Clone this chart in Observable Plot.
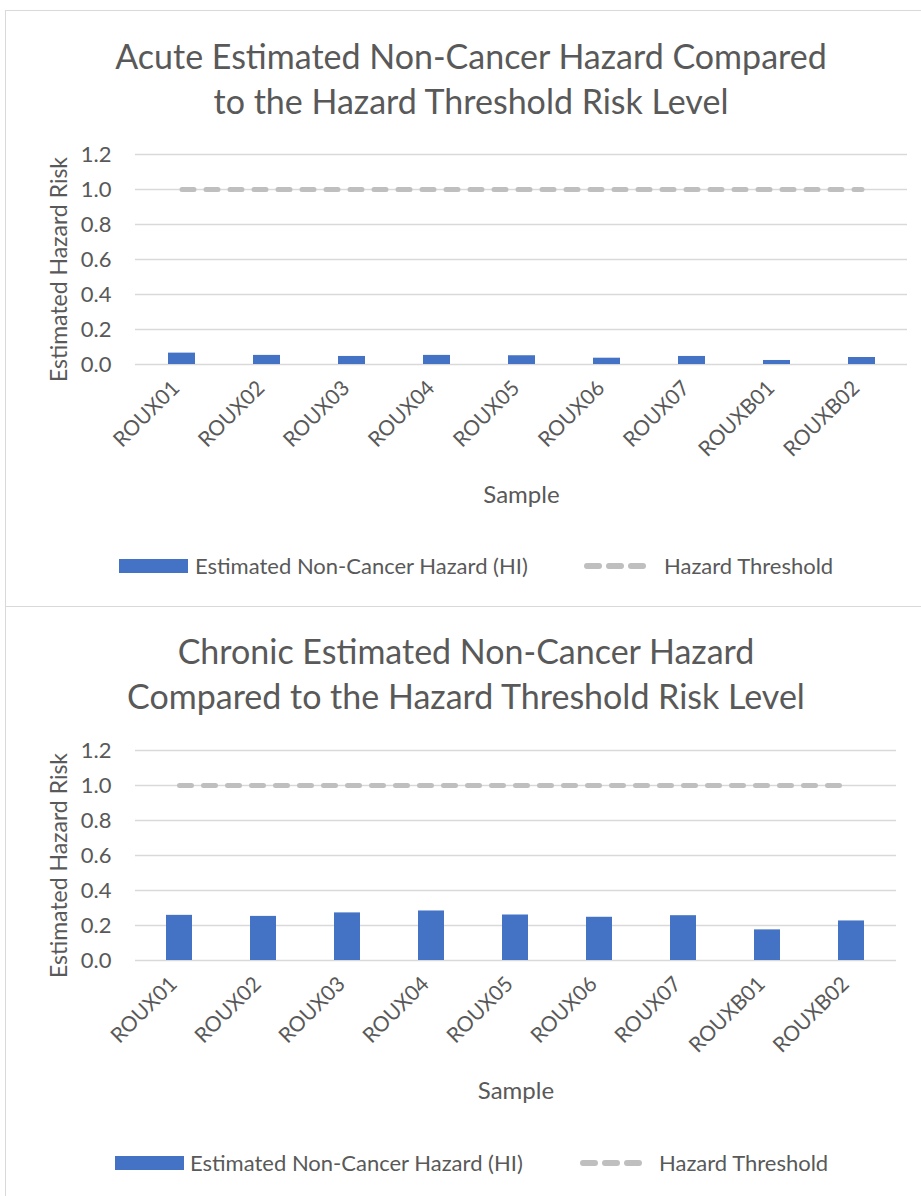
<!DOCTYPE html>
<html>
<head>
<meta charset="utf-8">
<script src="https://cdn.jsdelivr.net/npm/d3@7"></script>
<script src="https://cdn.jsdelivr.net/npm/@observablehq/plot@0.6"></script>
<style>
  body { margin: 0; background: #fff; font-family: Lato, "Open Sans", sans-serif; color: #595959; }
  #page { position: relative; width: 921px; height: 1196px; overflow: hidden; }
  .frame { position: absolute; border: 1px solid #d9d9d9; box-sizing: border-box; }
  .title { position: absolute; width: 860px; text-align: center; font-size: 34px; line-height: 45px; color: #595959; white-space: nowrap; }
  .chart { position: absolute; left: 0; }
  .legend { position: absolute; height: 24px; font-size: 22px; line-height: 24px; color: #595959; white-space: nowrap; }
  .legend .item { position: absolute; top: 0; }
  .legend svg { position: absolute; top: 0; }
</style>
</head>
<body>
<div id="page"></div>
<script>
// Sample locations along the x axis
const samples = ["ROUX01", "ROUX02", "ROUX03", "ROUX04", "ROUX05", "ROUX06", "ROUX07", "ROUXB01", "ROUXB02"];
// Estimated non-cancer hazard index (HI) per sample
const acuteHI = [0.065, 0.052, 0.046, 0.052, 0.050, 0.036, 0.046, 0.023, 0.040];
const chronicHI = [0.258, 0.252, 0.272, 0.283, 0.260, 0.247, 0.256, 0.175, 0.226];
// Hazard threshold risk level
const hazardThreshold = 1.0;
// Y axis ticks
const yTicks = [0, 0.2, 0.4, 0.6, 0.8, 1.0, 1.2];

const seriesNames = ["Estimated Non-Cancer Hazard (HI)", "Hazard Threshold"];
const barColor = "#4472c4";
const lineColor = "#bfbfbf";

const page = document.getElementById("page");

function addFrame(left, top, width, height) {
  const f = document.createElement("div");
  f.className = "frame";
  Object.assign(f.style, {left: left + "px", top: top + "px", width: width + "px", height: height + "px"});
  page.appendChild(f);
}

function addTitle(lines, centerX, top) {
  const t = document.createElement("div");
  t.className = "title";
  t.style.left = (centerX - 430) + "px";
  t.style.top = top + "px";
  t.innerHTML = lines.map(l => `<div>${l}</div>`).join("");
  page.appendChild(t);
}

function drawChart(values, top, plotRight) {
  const data = samples.map((s, i) => ({sample: s, hi: values[i]}));
  const thresholdData = samples.map(s => ({sample: s, value: hazardThreshold}));
  const chart = Plot.plot({
    width: 921,
    height: 380,
    marginLeft: 135,
    marginRight: 921 - plotRight,
    marginTop: 14,
    marginBottom: 156,
    style: {fontFamily: "Lato, 'Open Sans', sans-serif", color: "#595959", background: "transparent", overflow: "visible"},
    x: {domain: samples, paddingInner: 0.685, paddingOuter: 0.3425, align: 0.5},
    y: {domain: [0, 1.2]},
    marks: [
      Plot.gridY(yTicks, {stroke: "#d9d9d9", strokeOpacity: 1, strokeWidth: 1.4}),
      Plot.barY(data, {x: "sample", y: "hi", fill: barColor}),
      Plot.lineY(thresholdData, {x: "sample", y: "value", stroke: lineColor, strokeWidth: 5, strokeDasharray: "12,12", strokeLinecap: "round"}),
      Plot.axisY(yTicks, {tickSize: 0, tickPadding: 24, tickFormat: d3.format(".1f"), fontSize: 22, label: null}),
      Plot.axisX({tickSize: 0, tickPadding: 14, tickRotate: -45, fontSize: 21, dx: -6, dy: 6, label: null}),
      Plot.text(["Estimated Hazard Risk"], {frameAnchor: "left", textAnchor: "middle", lineAnchor: "middle", dx: -76, dy: 10, rotate: -90, fontSize: 23, fill: "currentColor"}),
      Plot.text(["Sample"], {frameAnchor: "bottom", textAnchor: "middle", lineAnchor: "middle", dy: 131, fontSize: 24, fill: "currentColor"})
    ]
  });
  chart.classList.add("chart");
  chart.style.top = top + "px";
  page.appendChild(chart);
}

function addLegend(top, rectX, textX, dashX, dashTextX) {
  const lg = document.createElement("div");
  lg.className = "legend";
  lg.style.left = "0px";
  lg.style.top = top + "px";
  lg.style.width = "921px";
  lg.innerHTML = `
    <svg width="70" height="24" style="left:${rectX}px"><rect x="0" y="5" width="69" height="14" fill="${barColor}"/></svg>
    <span class="item" style="left:${textX}px">${seriesNames[0]}</span>
    <svg width="70" height="24" style="left:${dashX}px"><line x1="3" y1="12" x2="63" y2="12" stroke="${lineColor}" stroke-width="6" stroke-dasharray="12,10" stroke-linecap="round"/></svg>
    <span class="item" style="left:${dashTextX}px">${seriesNames[1]}</span>`;
  page.appendChild(lg);
}

// Panel frames
addFrame(5, 10, 1000, 597);
addFrame(5, 606, 1000, 700);

// Acute chart
addTitle(["Acute Estimated Non-Cancer Hazard Compared", "to the Hazard Threshold Risk Level"], 471, 33);
drawChart(acuteHI, 140, 907);
addLegend(554, 119, 195, 584, 664);

// Chronic chart
addTitle(["Chronic Estimated Non-Cancer Hazard", "Compared to the Hazard Threshold Risk Level"], 466, 628);
drawChart(chronicHI, 736, 896);
addLegend(1151, 115, 190, 580, 659);
</script>
</body>
</html>
